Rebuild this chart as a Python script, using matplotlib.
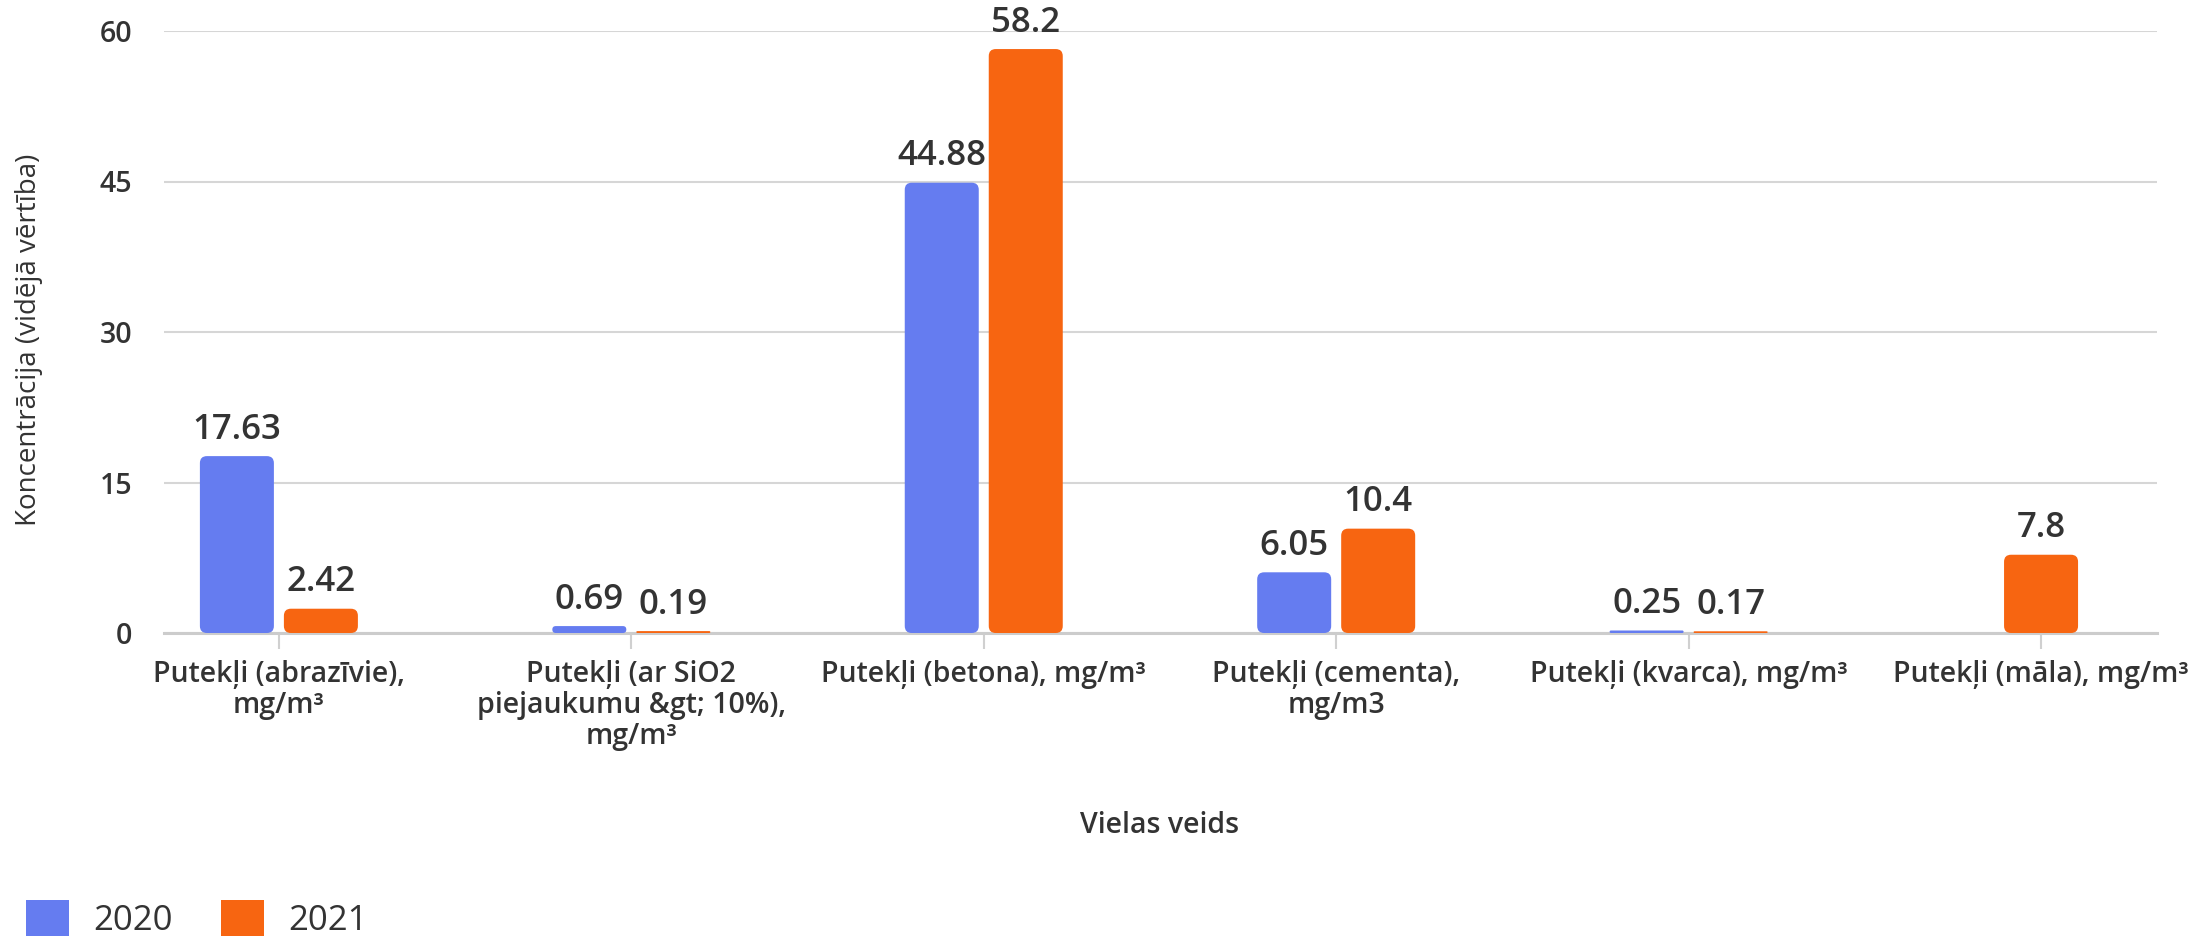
import matplotlib
matplotlib.use("Agg")
import matplotlib.pyplot as plt
from matplotlib.patches import FancyBboxPatch, Patch

# data
categories = [
    "Putekļi (abrazīvie),\nmg/m³",
    "Putekļi (ar SiO2\npiejaukumu &gt; 10%),\nmg/m³",
    "Putekļi (betona), mg/m³",
    "Putekļi (cementa),\nmg/m3",
    "Putekļi (kvarca), mg/m³",
    "Putekļi (māla), mg/m³",
]
years = ["2020", "2021"]
values_2020 = [17.63, 0.69, 44.88, 6.05, 0.25, None]
values_2021 = [2.42, 0.19, 58.2, 10.4, 0.17, 7.8]
y_ticks = [0, 15, 30, 45, 60]

colors = ["#657cf0", "#f76511"]
text_color = "#333333"

plt.rcParams["font.family"] = ["Open Sans", "DejaVu Sans"]

W, H = 2212, 936
fig = plt.figure(figsize=(W / 100, H / 100), dpi=100)
ax = fig.add_axes([164 / W, 1 - 633 / H, (2157 - 164) / W, (633 - 31) / H])
ax.set_xlim(-0.326, 5.329)
ax.set_ylim(0, 60)

# pixel scale of the data axes, used for the rounded corners
p0 = ax.transData.transform((0, 0))
p1 = ax.transData.transform((1, 1))
px_x = p1[0] - p0[0]
px_y = p1[1] - p0[1]
aspect = px_x / px_y

bar_w = 74 / px_x
offset = 42 / px_x
radius = 7 / px_x


def rounded_bar(x, h, color):
    r = min(radius, bar_w / 2, h / aspect / 2)
    box = FancyBboxPatch((x - bar_w / 2, 0), bar_w, h,
                         boxstyle="round,pad=0,rounding_size=%f" % r,
                         mutation_aspect=aspect, fc=color, ec="none", zorder=3)
    ax.add_patch(box)
    ax.annotate(f"{h:g}", (x, h), xytext=(0, 12.5), textcoords="offset points",
                ha="center", va="baseline", fontsize=25, fontweight="semibold",
                color=text_color)


for i in range(len(categories)):
    pair = [values_2020[i], values_2021[i]]
    present = [k for k in range(2) if pair[k] is not None]
    for k in present:
        if len(present) == 2:
            x = i + (-offset if k == 0 else offset)
        else:
            x = i
        rounded_bar(x, pair[k], colors[k])

ax.set_yticks(y_ticks)
ax.set_yticklabels([str(t) for t in y_ticks], fontsize=20.5, fontweight="semibold", color=text_color)
ax.set_xticks(range(len(categories)))
ax.set_xticklabels(categories, fontsize=20.5, fontweight="semibold", color=text_color, linespacing=1.1)
ax.tick_params(axis="y", length=0, pad=23)
ax.tick_params(axis="x", length=11.5, width=1.5, color="#d0d0d0", pad=8)
ax.grid(axis="y", color="#d6d6d6", linewidth=1.5, zorder=0)
ax.set_axisbelow(True)
for s in ["top", "right", "left"]:
    ax.spines[s].set_visible(False)
ax.spines["bottom"].set_color("#cccccc")
ax.spines["bottom"].set_linewidth(2.2)
ax.spines["bottom"].set_zorder(2)

ax.set_xlabel("Vielas veids", fontsize=20.5, fontweight="semibold", color=text_color)
ax.xaxis.set_label_coords((1160 - 164) / (2157 - 164), 1 - (825 - 31) / (633 - 31))
ax.xaxis.label.set_va("center")
ax.set_ylabel("Koncentrācija (vidējā vērtība)", fontsize=20, color=text_color)
ax.yaxis.set_label_coords((29 - 164) / (2157 - 164), 1 - (340 - 31) / (633 - 31))
ax.yaxis.label.set_va("center")

handles = [Patch(fc=c, ec="none") for c in colors]
fig.legend(handles, years, loc="center left", bbox_to_anchor=(26 / W, 1 - 919 / H),
           ncol=2, frameon=False, fontsize=25, handlelength=1.23, handleheight=1.23,
           handletextpad=0.7, columnspacing=1.4, borderpad=0, borderaxespad=0,
           labelcolor=text_color)

fig.savefig("out.png", dpi=100)
